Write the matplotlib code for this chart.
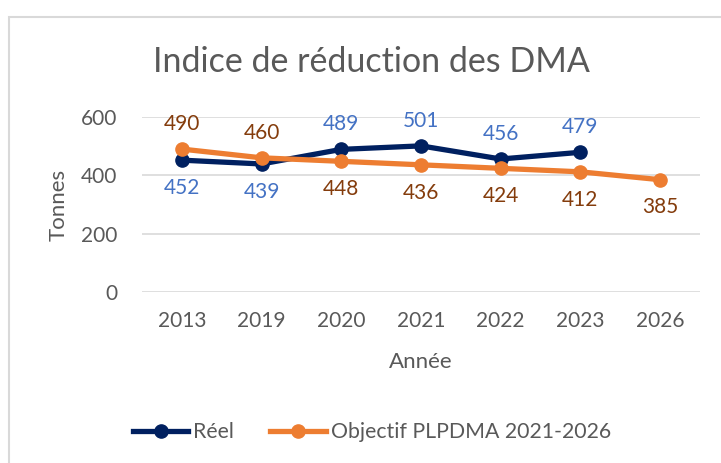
import matplotlib.pyplot as plt
from matplotlib.patches import Rectangle

years = ['2013', '2019', '2020', '2021', '2022', '2023', '2026']
reel = [452, 439, 489, 501, 456, 479]
objectif = [490, 460, 448, 436, 424, 412, 385]
reel_pos = ['below', 'below', 'above', 'above', 'above', 'above']
obj_pos = ['above', 'above', 'below', 'below', 'below', 'below', 'below']

plt.rcParams['font.family'] = ['Lato', 'DejaVu Sans']
gray = '#595959'

fig = plt.figure(figsize=(7.21, 4.63), dpi=100)
ax = fig.add_axes([142 / 721, 1 - 292 / 463, 558 / 721, 175 / 463])

# chart frame
fig.patches.append(Rectangle((9 / 721, -0.1), 1.1, 1.1 - 17 / 463, transform=fig.transFigure,
                             fill=False, edgecolor='#d9d9d9', linewidth=1.5))

x = list(range(len(years)))
ax.plot(x[:len(reel)], reel, color='#002060', linewidth=3.8, marker='o', markersize=9.5,
        label='Réel', zorder=3)
ax.plot(x, objectif, color='#ED7D31', linewidth=3.8, marker='o', markersize=9.5,
        label='Objectif PLPDMA 2021-2026', zorder=4)

for i, (v, p) in enumerate(zip(reel, reel_pos)):
    off = 18 if p == 'above' else -20
    ax.annotate(str(v), (i, v), xytext=(0, off), textcoords='offset points',
                ha='center', va='center', color='#4472C4', fontsize=15)
for i, (v, p) in enumerate(zip(objectif, obj_pos)):
    off = 18 if p == 'above' else -20
    ax.annotate(str(v), (i, v), xytext=(0, off), textcoords='offset points',
                ha='center', va='center', color='#843C0C', fontsize=15)

ax.set_xlim(-0.5, len(years) - 0.5)
ax.set_ylim(0, 600)
ax.set_yticks([0, 200, 400, 600])
ax.set_xticks(x)
ax.set_xticklabels(years)
ax.tick_params(length=0, labelsize=15, labelcolor=gray)
ax.tick_params(axis='y', pad=18)
ax.tick_params(axis='x', pad=14)
ax.grid(axis='y', color='#d9d9d9', linewidth=1.2)
ax.set_axisbelow(True)
for s in ax.spines.values():
    s.set_visible(False)

ax.set_ylabel('Tonnes', fontsize=16, color=gray, va='center')
ax.yaxis.set_label_coords(-0.15, 0.5)
ax.set_xlabel('Année', fontsize=16, color=gray, va='center')
ax.xaxis.set_label_coords(0.5, -0.4)

fig.text(371 / 721, 1 - 62 / 463, 'Indice de réduction des DMA', ha='center', va='center',
         fontsize=24.5, color=gray)

fig.legend(loc='center', bbox_to_anchor=(372 / 721, 1 - 432 / 463), ncol=2, frameon=False,
           fontsize=15.3, labelcolor=gray, handlelength=2.6, handletextpad=0.25,
           columnspacing=1.7)

fig.savefig('out.png', dpi=100)
